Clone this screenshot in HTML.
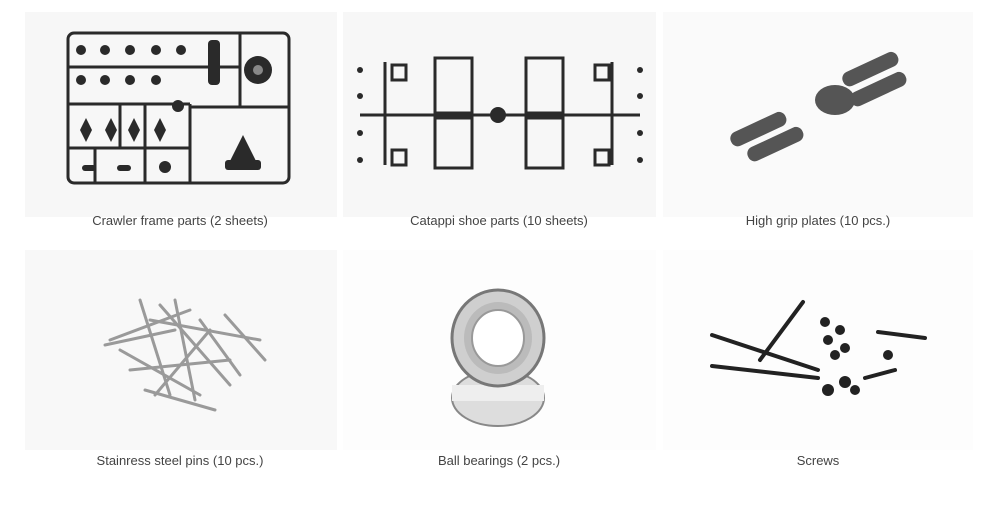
<!DOCTYPE html>
<html><head><meta charset="utf-8"><style>
html,body{margin:0;padding:0;background:#fff;width:1000px;height:512px;overflow:hidden}
svg{display:block}
text{font-family:"Liberation Sans",sans-serif;font-size:13px;fill:#444}
</style></head><body>
<svg width="1000" height="512" viewBox="0 0 1000 512">
<rect x="25" y="12" width="312" height="205" fill="#f7f7f7"/>
<rect x="343" y="12" width="313" height="205" fill="#f7f7f7"/>
<rect x="663" y="12" width="310" height="205" fill="#fafafa"/>
<rect x="25" y="250" width="312" height="200" fill="#f8f8f8"/>
<rect x="343" y="250" width="313" height="200" fill="#fdfdfd"/>
<rect x="663" y="250" width="310" height="200" fill="#fdfdfd"/>

<!-- Crawler frame sprue -->
<g stroke="#2a2a2a" stroke-width="3" fill="none">
<rect x="68" y="33" width="221" height="150" rx="6"/>
<line x1="68" y1="67" x2="240" y2="67"/><line x1="68" y1="104" x2="190" y2="104"/>
<line x1="68" y1="148" x2="190" y2="148"/><line x1="190" y1="104" x2="190" y2="183"/>
<line x1="240" y1="33" x2="240" y2="107"/><line x1="190" y1="107" x2="289" y2="107"/>
<line x1="95" y1="148" x2="95" y2="183"/><line x1="145" y1="148" x2="145" y2="183"/>
<line x1="120" y1="104" x2="120" y2="148"/><line x1="145" y1="104" x2="145" y2="148"/>
</g>
<g fill="#2a2a2a">
<circle cx="81" cy="50" r="5"/><circle cx="105" cy="50" r="5"/><circle cx="130" cy="50" r="5"/><circle cx="156" cy="50" r="5"/><circle cx="181" cy="50" r="5"/>
<circle cx="81" cy="80" r="5"/><circle cx="105" cy="80" r="5"/><circle cx="130" cy="80" r="5"/><circle cx="156" cy="80" r="5"/>
<circle cx="258" cy="70" r="14"/><rect x="208" y="40" width="12" height="45" rx="4"/>
<circle cx="178" cy="106" r="6"/>
<path d="M80 130 l6 -12 l6 12 l-6 12z M105 130 l6 -12 l6 12 l-6 12z M128 130 l6 -12 l6 12 l-6 12z M154 130 l6 -12 l6 12 l-6 12z"/>
<path d="M228 165 l15 -30 l15 30z"/><rect x="225" y="160" width="36" height="10" rx="3"/>
<rect x="82" y="165" width="14" height="6" rx="3"/><rect x="117" y="165" width="14" height="6" rx="3"/><circle cx="165" cy="167" r="6"/>
</g>
<circle cx="258" cy="70" r="5" fill="#888"/>

<!-- Catappi sprue -->
<g stroke="#2a2a2a" stroke-width="3" fill="none">
<line x1="360" y1="115" x2="640" y2="115"/>
<rect x="435" y="58" width="37" height="55"/><rect x="435" y="118" width="37" height="50"/>
<rect x="526" y="58" width="37" height="55"/><rect x="526" y="118" width="37" height="50"/>
<line x1="385" y1="62" x2="385" y2="165"/><line x1="612" y1="62" x2="612" y2="165"/>
<rect x="392" y="65" width="14" height="15"/><rect x="392" y="150" width="14" height="15"/>
<rect x="595" y="65" width="14" height="15"/><rect x="595" y="150" width="14" height="15"/>
</g>
<g fill="#2a2a2a">
<circle cx="498" cy="115" r="8"/>
<circle cx="360" cy="70" r="3"/><circle cx="360" cy="96" r="3"/><circle cx="360" cy="133" r="3"/><circle cx="360" cy="160" r="3"/>
<circle cx="640" cy="70" r="3"/><circle cx="640" cy="96" r="3"/><circle cx="640" cy="133" r="3"/><circle cx="640" cy="160" r="3"/>
</g>

<!-- High grip plates -->
<g fill="#555">
<ellipse cx="835" cy="100" rx="20" ry="15"/>
<rect x="840" y="75" width="60" height="15" rx="7" transform="rotate(-25 840 75)"/>
<rect x="848" y="95" width="60" height="15" rx="7" transform="rotate(-25 848 95)"/>
<rect x="728" y="135" width="60" height="15" rx="7" transform="rotate(-25 728 135)"/>
<rect x="745" y="150" width="60" height="15" rx="7" transform="rotate(-25 745 150)"/>
</g>

<!-- pins -->
<g stroke="#9a9a9a" stroke-width="3" stroke-linecap="round">
<line x1="110" y1="340" x2="190" y2="310"/><line x1="120" y1="350" x2="200" y2="395"/><line x1="140" y1="300" x2="170" y2="395"/>
<line x1="150" y1="320" x2="260" y2="340"/><line x1="160" y1="305" x2="230" y2="385"/><line x1="175" y1="300" x2="195" y2="400"/>
<line x1="130" y1="370" x2="230" y2="360"/><line x1="145" y1="390" x2="215" y2="410"/><line x1="200" y1="320" x2="240" y2="375"/>
<line x1="225" y1="315" x2="265" y2="360"/><line x1="105" y1="345" x2="175" y2="330"/><line x1="155" y1="395" x2="210" y2="330"/>
</g>

<!-- bearings -->
<ellipse cx="498" cy="398" rx="46" ry="28" fill="#ddd" stroke="#888" stroke-width="2"/>
<rect x="452" y="385" width="92" height="16" fill="#eee"/>
<ellipse cx="498" cy="338" rx="46" ry="48" fill="#cfcfcf" stroke="#777" stroke-width="3"/>
<ellipse cx="498" cy="338" rx="34" ry="36" fill="#bbb"/>
<ellipse cx="498" cy="338" rx="26" ry="28" fill="#fff" stroke="#999" stroke-width="2"/>

<!-- screws -->
<g stroke="#222" stroke-linecap="round">
<line x1="712" y1="335" x2="818" y2="370" stroke-width="4"/>
<line x1="712" y1="366" x2="818" y2="378" stroke-width="4"/>
<line x1="803" y1="302" x2="760" y2="360" stroke-width="4"/>
<line x1="878" y1="332" x2="925" y2="338" stroke-width="4"/>
<line x1="865" y1="378" x2="895" y2="370" stroke-width="4"/>
</g>
<g fill="#222">
<circle cx="825" cy="322" r="5"/><circle cx="840" cy="330" r="5"/><circle cx="828" cy="340" r="5"/><circle cx="845" cy="348" r="5"/><circle cx="835" cy="355" r="5"/>
<circle cx="888" cy="355" r="5"/><circle cx="828" cy="390" r="6"/><circle cx="845" cy="382" r="6"/><circle cx="855" cy="390" r="5"/>
</g>

<text x="180" y="225" text-anchor="middle">Crawler frame parts (2 sheets)</text>
<text x="499" y="225" text-anchor="middle">Catappi shoe parts (10 sheets)</text>
<text x="818" y="225" text-anchor="middle">High grip plates (10 pcs.)</text>
<text x="180" y="465" text-anchor="middle">Stainress steel pins (10 pcs.)</text>
<text x="499" y="465" text-anchor="middle">Ball bearings (2 pcs.)</text>
<text x="818" y="465" text-anchor="middle">Screws</text>
</svg>
</body></html>
